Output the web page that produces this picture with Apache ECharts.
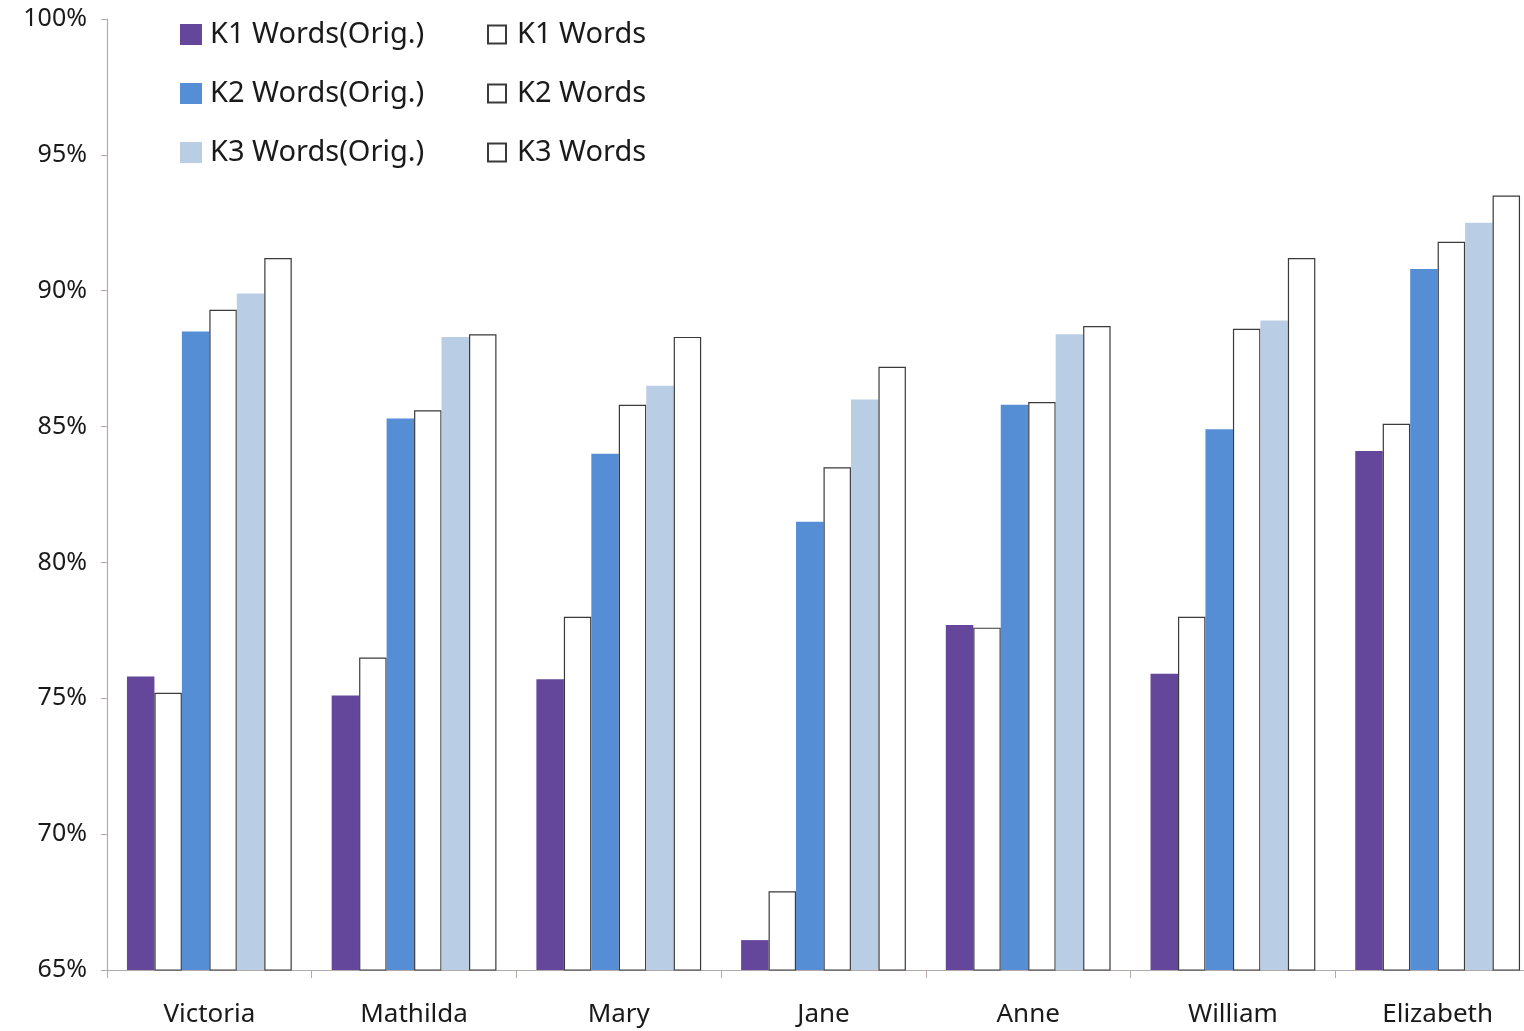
<!DOCTYPE html>
<html>
<head>
<meta charset="utf-8">
<script src="https://cdn.jsdelivr.net/npm/echarts@6/dist/echarts.min.js"></script>
<style>
  html, body { margin: 0; padding: 0; background: #fff; overflow: hidden; }
  /* wider than the window on purpose: the last category is cut off like the source */
  #chart { width: 1540px; height: 1031px; }
</style>
</head>
<body>
<div id="chart"></div>
<script>
const categories = ['Victoria', 'Mathilda', 'Mary', 'Jane', 'Anne', 'William', 'Elizabeth']
const yTicks = { min: 65, max: 100, step: 5 }

const k1Orig = [75.8, 75.1, 75.7, 66.1, 77.7, 75.9, 84.1]
const k1 = [75.2, 76.5, 78.0, 67.9, 77.6, 78.0, 85.1]
const k2Orig = [88.5, 85.3, 84.0, 81.5, 85.8, 84.9, 90.8]
const k2 = [89.3, 85.6, 85.8, 83.5, 85.9, 88.6, 91.8]
const k3Orig = [89.9, 88.3, 86.5, 86.0, 88.4, 88.9, 92.5]
const k3 = [91.2, 88.4, 88.3, 87.2, 88.7, 91.2, 93.5]

const FONT = '"Noto Sans", "Open Sans", sans-serif'
const axisColor = '#b5aaaa'

const filled = (name, data, color) => ({
  name, type: 'bar', data, barGap: '0%', barCategoryGap: '19.5%',
  itemStyle: { color }
})
const hollow = (name, data) => ({
  name, type: 'bar', data, barGap: '0%', barCategoryGap: '19.5%',
  itemStyle: { color: '#ffffff', borderColor: '#3a3a3a', borderWidth: 1.2 }
})

const chart = echarts.init(document.getElementById('chart'))
chart.setOption({
  backgroundColor: '#fff',
  animation: false,
  grid: { left: 107, right: 0, top: 19, bottom: 61 },
  legend: [
    {
      orient: 'vertical', left: 175, top: 10, itemGap: 20,
      icon: 'rect', itemWidth: 22, itemHeight: 21,
      textStyle: { fontFamily: FONT, fontSize: 29, color: '#1a1a1a', padding: [0, 0, 0, 3], lineHeight: 39 },
      data: ['K1 Words(Orig.)', 'K2 Words(Orig.)', 'K3 Words(Orig.)']
    },
    {
      orient: 'vertical', left: 482, top: 10, itemGap: 20,
      icon: 'rect', itemWidth: 18, itemHeight: 18,
      textStyle: { fontFamily: FONT, fontSize: 29, color: '#1a1a1a', padding: [0, 0, 0, 6], lineHeight: 39 },
      data: ['K1 Words', 'K2 Words', 'K3 Words']
    }
  ],
  xAxis: {
    type: 'category',
    data: categories,
    axisLine: { lineStyle: { color: axisColor, width: 1.2 } },
    axisTick: { show: true, length: 8, lineStyle: { color: axisColor } },
    axisLabel: { fontFamily: FONT, fontSize: 26, color: '#1a1a1a', margin: 32 }
  },
  yAxis: {
    type: 'value',
    min: yTicks.min, max: yTicks.max, interval: yTicks.step,
    axisLine: { show: true, lineStyle: { color: axisColor, width: 1.2 } },
    axisTick: { show: true, length: 6, lineStyle: { color: axisColor } },
    splitLine: { show: false },
    axisLabel: { fontFamily: FONT, fontSize: 25, color: '#1a1a1a', margin: 20, formatter: '{value}%' }
  },
  series: [
    filled('K1 Words(Orig.)', k1Orig, '#64469b'),
    hollow('K1 Words', k1),
    filled('K2 Words(Orig.)', k2Orig, '#558ed5'),
    hollow('K2 Words', k2),
    filled('K3 Words(Orig.)', k3Orig, '#b9cde5'),
    hollow('K3 Words', k3)
  ]
})
</script>
</body>
</html>
